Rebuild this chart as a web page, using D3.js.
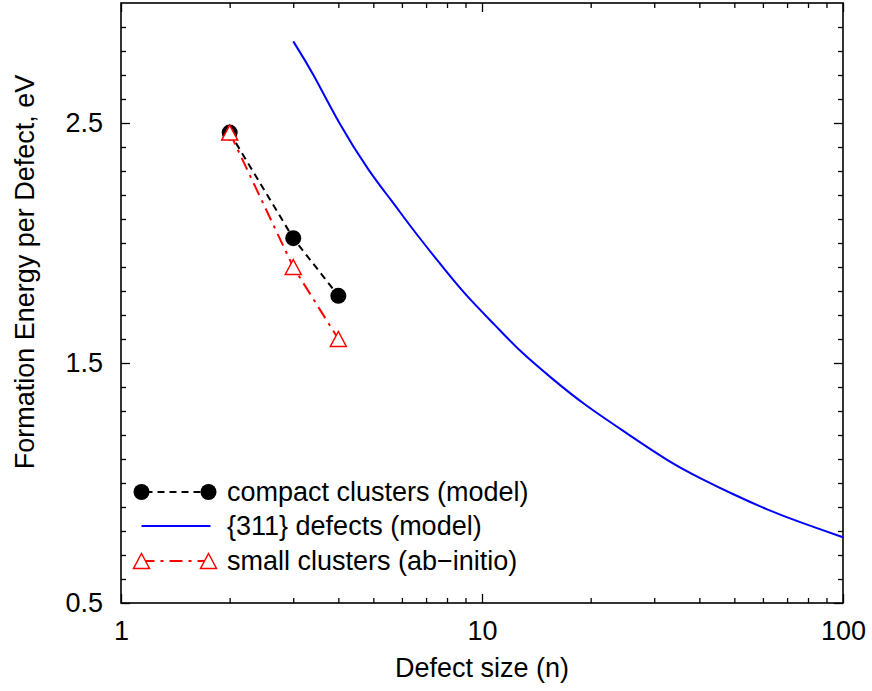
<!DOCTYPE html>
<html>
<head>
<meta charset="utf-8">
<script src="https://cdn.jsdelivr.net/npm/d3@7"></script>
<style>
  body { margin: 0; background: #fff; }
  svg { display: block; }
  text { font-family: "Liberation Sans", Arial, Helvetica, sans-serif; }
</style>
</head>
<body>
<div id="chart"></div>
<script>
var svgWidth = 872;
var svgHeight = 691;

var margin = {
    top: 3,
    right: 29,
    bottom: 88,
    left: 121
};

var width = svgWidth - margin.left - margin.right;
var height = svgHeight - margin.top - margin.bottom;

// compact clusters (model)
var compactN = [2, 3, 4];
var compactE = [2.46, 2.02, 1.78];

// {311} defects (model)
var defectN = [3, 3.4, 4, 4.9, 5.6, 6.4, 7.5, 8.9, 11, 12.7, 15.6, 19.1, 25.2, 33.2, 40.2, 49.7, 61.4, 76, 100];
var defectE = [2.84, 2.71, 2.50, 2.29, 2.18, 2.06, 1.93, 1.79, 1.65, 1.55, 1.436, 1.328, 1.207, 1.085, 1.02, 0.952, 0.89, 0.836, 0.774];

// small clusters (ab-initio)
var smallN = [2, 3, 4];
var smallE = [2.46, 1.90, 1.60];

var xMajor = [1, 10, 100];
var yMajor = [0.5, 1.5, 2.5];

var legendLabels = ["compact clusters (model)", "{311} defects (model)", "small clusters (ab\u2212initio)"];

var fontSize = 27;

var svg = d3.select("#chart")
    .append("svg")
    .attr("width", svgWidth)
    .attr("height", svgHeight);

var chartGroup = svg.append("g")
    .attr("transform", `translate(${margin.left}, ${margin.top})`);

var xScale = d3.scaleLog()
    .domain([1, 100])
    .range([0, width]);

var yScale = d3.scaleLinear()
    .domain([0.5, 3.0])
    .range([height, 0]);

// minor tick values
var xMinor = [];
[1, 10].forEach(function(dec) {
    for (var k = 2; k <= 9; k++) xMinor.push(dec * k);
});
var yMinor = d3.range(6, 30).map(d => d / 10).filter(d => yMajor.indexOf(d) < 0);

function styleAxis(g) {
    g.select(".domain").remove();
    g.selectAll("line").attr("stroke", "#000").attr("stroke-width", 1.3);
    g.selectAll("text")
        .attr("font-size", fontSize)
        .attr("fill", "#000");
}

// bottom axis
chartGroup.append("g")
    .attr("transform", `translate(0, ${height})`)
    .call(d3.axisBottom(xScale).tickValues(xMajor).tickSize(-9).tickPadding(18).tickFormat(d3.format("d")))
    .call(styleAxis);
chartGroup.append("g")
    .attr("transform", `translate(0, ${height})`)
    .call(d3.axisBottom(xScale).tickValues(xMinor).tickSize(-5).tickFormat(""))
    .call(styleAxis);

// top axis
chartGroup.append("g")
    .call(d3.axisTop(xScale).tickValues(xMajor).tickSize(-9).tickFormat(""))
    .call(styleAxis);
chartGroup.append("g")
    .call(d3.axisTop(xScale).tickValues(xMinor).tickSize(-5).tickFormat(""))
    .call(styleAxis);

// left axis
chartGroup.append("g")
    .call(d3.axisLeft(yScale).tickValues(yMajor).tickSize(-9).tickPadding(18).tickFormat(d3.format(".1f")))
    .call(styleAxis);
chartGroup.append("g")
    .call(d3.axisLeft(yScale).tickValues(yMinor).tickSize(-5).tickFormat(""))
    .call(styleAxis);

// right axis
chartGroup.append("g")
    .attr("transform", `translate(${width}, 0)`)
    .call(d3.axisRight(yScale).tickValues(yMajor).tickSize(-9).tickFormat(""))
    .call(styleAxis);
chartGroup.append("g")
    .attr("transform", `translate(${width}, 0)`)
    .call(d3.axisRight(yScale).tickValues(yMinor).tickSize(-5).tickFormat(""))
    .call(styleAxis);

// frame
chartGroup.append("rect")
    .attr("x", 0)
    .attr("y", 0)
    .attr("width", width)
    .attr("height", height)
    .attr("fill", "none")
    .attr("stroke", "#000")
    .attr("stroke-width", 1.6);

var line = d3.line()
    .x(d => xScale(d[0]))
    .y(d => yScale(d[1]));

var smoothLine = d3.line()
    .x(d => xScale(d[0]))
    .y(d => yScale(d[1]))
    .curve(d3.curveBasis);

var triangle = "M0,-7.5L8,7.5L-8,7.5Z";

// compact clusters
var compactData = compactN.map((n, i) => [n, compactE[i]]);
chartGroup.append("path")
    .datum(compactData)
    .attr("d", line)
    .attr("fill", "none")
    .attr("stroke", "#000")
    .attr("stroke-width", 2)
    .attr("stroke-dasharray", "7,5");
chartGroup.selectAll(".compact")
    .data(compactData)
    .enter()
    .append("circle")
    .attr("cx", d => xScale(d[0]))
    .attr("cy", d => yScale(d[1]))
    .attr("r", 8)
    .attr("fill", "#000");

// {311} defects
var defectData = defectN.map((n, i) => [n, defectE[i]]);
chartGroup.append("path")
    .datum(defectData)
    .attr("d", smoothLine)
    .attr("fill", "none")
    .attr("stroke", "#0000ff")
    .attr("stroke-width", 2);

// small clusters
var smallData = smallN.map((n, i) => [n, smallE[i]]);
chartGroup.append("path")
    .datum(smallData)
    .attr("d", line)
    .attr("fill", "none")
    .attr("stroke", "#ff0000")
    .attr("stroke-width", 2)
    .attr("stroke-dasharray", "13,6,3,6");
chartGroup.selectAll(".small")
    .data(smallData)
    .enter()
    .append("path")
    .attr("d", triangle)
    .attr("transform", d => `translate(${xScale(d[0])}, ${yScale(d[1])})`)
    .attr("fill", "#fff")
    .attr("stroke", "#ff0000")
    .attr("stroke-width", 1.5);

// legend
var legend = svg.append("g");
var lx1 = 141.5, lx2 = 208.5, ltext = 227;
var rowY = [492, 526, 561];

legend.append("line")
    .attr("x1", lx1).attr("x2", lx2)
    .attr("y1", rowY[0]).attr("y2", rowY[0])
    .attr("stroke", "#000").attr("stroke-width", 2)
    .attr("stroke-dasharray", "7,5")
    .attr("stroke-dashoffset", -4);
[lx1, lx2].forEach(function(x) {
    legend.append("circle").attr("cx", x).attr("cy", rowY[0]).attr("r", 8).attr("fill", "#000");
});

legend.append("line")
    .attr("x1", lx1).attr("x2", lx2 + 2)
    .attr("y1", rowY[1]).attr("y2", rowY[1])
    .attr("stroke", "#0000ff").attr("stroke-width", 2);

legend.append("line")
    .attr("x1", lx1).attr("x2", lx2)
    .attr("y1", rowY[2]).attr("y2", rowY[2])
    .attr("stroke", "#ff0000").attr("stroke-width", 2)
    .attr("stroke-dasharray", "13,6,3,6");
[lx1, lx2].forEach(function(x) {
    legend.append("path").attr("d", triangle)
        .attr("transform", `translate(${x}, ${rowY[2]})`)
        .attr("fill", "#fff").attr("stroke", "#ff0000").attr("stroke-width", 1.5);
});

legend.selectAll(".ltext")
    .data(legendLabels)
    .enter()
    .append("text")
    .attr("x", ltext)
    .attr("y", (d, i) => rowY[i])
    .attr("dy", "0.35em")
    .attr("font-size", fontSize)
    .text(d => d);

// axis labels
svg.append("text")
    .attr("x", margin.left + width / 2)
    .attr("y", 677)
    .attr("text-anchor", "middle")
    .attr("font-size", fontSize)
    .text("Defect size (n)");

svg.append("text")
    .attr("transform", "translate(34, 272) rotate(-90)")
    .attr("text-anchor", "middle")
    .attr("font-size", fontSize)
    .text("Formation Energy per Defect, eV");
</script>
</body>
</html>
